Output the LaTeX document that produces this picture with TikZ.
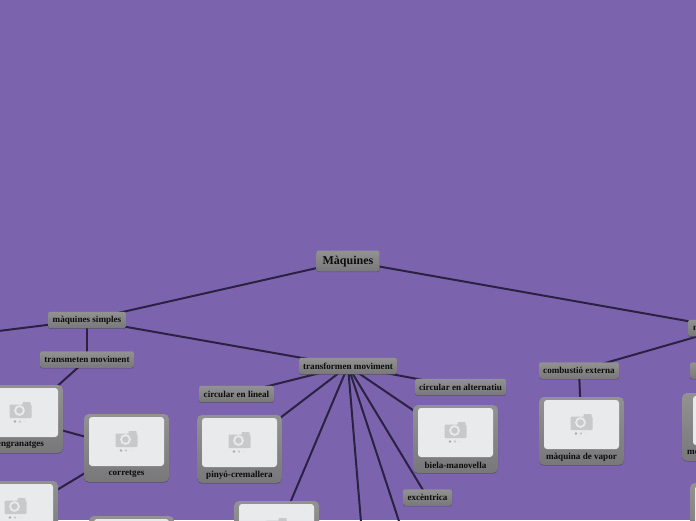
\documentclass[tikz,border=0pt]{standalone}
\usepackage{fontspec}
\setmainfont{Liberation Serif}
\usepackage{xcolor}
\usetikzlibrary{backgrounds, shadows}
\definecolor{canvas}{HTML}{7B64AD}
\definecolor{edgeline}{HTML}{2B2243}
\definecolor{boxtop}{HTML}{929292}
\definecolor{boxbottom}{HTML}{78787A}
\definecolor{photopaper}{HTML}{E9EAEC}
\definecolor{iconfill}{HTML}{C8C9CB}
\definecolor{inktext}{HTML}{0C0C0C}

\tikzset{
    box/.style={rectangle, rounded corners=2.5pt, minimum height=16.5pt, inner sep=0pt,
                top color=boxtop, bottom color=boxbottom, draw=none,
                drop shadow={shadow xshift=0pt, shadow yshift=-0.7pt, opacity=0.3, fill=black}},
    boxtext/.style={font=\fontsize{9.1}{10}\selectfont\bfseries, text=inktext, inner sep=0pt},
    rootbox/.style={box, minimum width=63pt, minimum height=21pt},
    cardbox/.style={box, rounded corners=5pt, minimum width=#1, minimum height=68pt},
    cardbox/.default=85pt,
    photo/.style={rectangle, rounded corners=3pt, fill=photopaper, draw=none, inner sep=0pt,
                  minimum width=75pt, minimum height=49pt},
    link/.style={draw=edgeline, line width=2pt},
    camera/.pic={
        \fill[iconfill, rounded corners=1pt] (-11,-8) rectangle (11,5.5);
        \fill[iconfill, rounded corners=0.5pt] (2,-10.5) rectangle (10,-7);
        \fill[photopaper] (-1,-2) circle (5.4);
        \fill[iconfill] (-1,-2) circle (3.3);
        \fill[iconfill!85!black] (-5.5,9) circle (1.4);
        \fill[iconfill] (-0.5,9) circle (1.4);
        \fill[iconfill!25!photopaper] (4.5,9) circle (1.2);
    }
}

% name, x, y, label, card width
\newcommand{\photocard}[5][85pt]{
    \node[cardbox=#1] (#2) at (#3,#4) {};
    \node[photo] (#2photo) at (#3,#4-6.5) {};
    \pic at (#3,#4-6.5) {camera};
    \node[boxtext] (#2label) at (#3,#4+26) {#5};
}

\begin{document}
\begin{tikzpicture}[x=1pt, y=-1pt]

\clip[use as bounding box] (0,0) rectangle (696,520);

% Root
\node[rootbox, boxtext] (root) at (348,261) {\raisebox{-3.5pt}[0pt][0pt]{\fontsize{12}{12}\selectfont Màquines}};

% Simple machines
\node[box, boxtext, minimum width=78pt] (simples) at (87,320) {màquines simples};
\node[box, boxtext, minimum width=94pt] (transmeten) at (87,359.5) {transmeten moviment};
\node[box, boxtext, minimum width=98pt] (transformen) at (348,366) {transformen moviment};
\node[box, boxtext, minimum width=75pt] (lineal) at (236.5,394) {circular en lineal};
\node[box, boxtext, minimum width=91pt] (alternatiu) at (460.5,387) {circular en alternatiu};
\node[box, boxtext, minimum width=49pt] (excentrica) at (427.5,497.5) {excèntrica};

% Cards
\photocard{engranatges}{20.5}{419}{engranatges}
\photocard{corretges}{126.5}{448}{corretges}
\photocard{cardleft}{15.5}{515}{}
\photocard{cardlow}{131.5}{550}{}
\photocard{pinyo}{239.5}{449}{pinyó-cremallera}
\photocard{biela}{455.5}{439}{biela-manovella}
\photocard{cardmid}{276.5}{535}{}

% Heat engines
\node[box, minimum width=78pt] (termiques) at (727,328) {};
\node[boxtext, anchor=west] (termiqueslabel) at (693,328) {m};
\node[box, boxtext, minimum width=80pt] (externa) at (579,370.5) {combustió externa};
\node[box, minimum width=80pt] (interna) at (730,370.5) {};
\photocard{vapor}{581.5}{431}{màquina de vapor}
\photocard[97pt]{motor}{730.5}{427}{}
\node[boxtext, anchor=west] (motorlabel) at (687,452.5) {mo};
\photocard{cardright}{732.5}{517}{}

% Free ends
\coordinate (leftend) at (-50,337);
\coordinate (downa) at (365,570);
\coordinate (downb) at (415,570);

\begin{scope}[on background layer]
\fill[canvas] (0,0) rectangle (696,520);

\draw[link] (root.center) -- (simples.center);
\draw[link] (root.center) -- (termiques.center);
\draw[link] (simples.center) -- (leftend);
\draw[link] (simples.center) -- (transmeten.center);
\draw[link] (simples.center) -- (transformen.center);

\draw[link] (transmeten.center) -- (engranatges.center);
\draw[link] (engranatges.center) -- (corretges.center);
\draw[link] (corretges.center) -- (cardleft.center);

\draw[link] (transformen.center) -- (lineal.center);
\draw[link] (transformen.center) -- (alternatiu.center);
\draw[link] (transformen.center) -- (pinyo.center);
\draw[link] (transformen.center) -- (biela.center);
\draw[link] (transformen.center) -- (cardmid.center);
\draw[link] (transformen.center) -- (excentrica.center);
\draw[link] (transformen.center) -- (downa);
\draw[link] (transformen.center) -- (downb);

\draw[link] (termiques.center) -- (externa.center);
\draw[link] (externa.center) -- (vapor.center);
\end{scope}

\end{tikzpicture}
\end{document}
